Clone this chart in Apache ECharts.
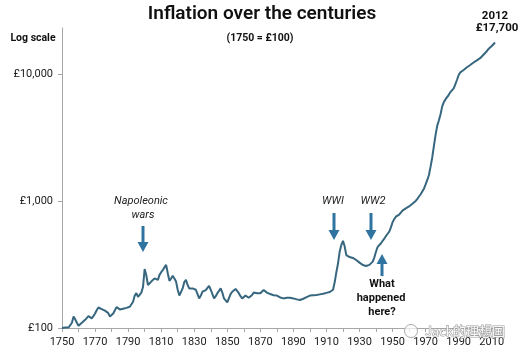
<!DOCTYPE html>
<html>
<head>
<meta charset="utf-8">
<script src="https://cdn.jsdelivr.net/npm/echarts@6/dist/echarts.min.js"></script>
<style>
html,body{margin:0;padding:0;background:#fff;}
#chart{width:520px;height:355px;}
</style>
</head>
<body>
<div id="chart"></div>
<script>
// Price level, 1750 = £100 (one value per year, 1750..2012)
const values = [
  100,100,101,101,101,100,110,123,117,110, // 1750-1759
  104,106,110,112,116,120,124,128,119,124, // 1760-1769
  130,138,145,143,141,136,137,139,131,123, // 1770-1779
  126,130,138,146,142,140,141,142,143,144, // 1780-1789
  146,147,152,161,180,188,176,172,190,210, // 1790-1799
  291,260,218,225,232,240,246,242,239,262, // 1800-1809
  275,286,300,314,270,235,245,258,245,232, // 1810-1819
  200,180,176,205,230,239,218,205,199,205, // 1820-1829
  212,200,185,171,180,193,197,199,207,215, // 1830-1839
  200,185,171,178,188,196,205,190,171,165, // 1840-1849
  159,160,185,193,200,203,196,188,178,171, // 1850-1859
  176,180,176,173,178,182,190,193,188,184, // 1860-1869
  188,194,199,195,190,188,185,182,181,180, // 1870-1879
  180,177,174,172,171,172,173,173,173,172, // 1880-1889
  171,170,168,167,166,168,170,172,175,178, // 1890-1899
  180,180,181,182,182,183,184,185,186,188, // 1900-1909
  189,190,192,193,200,230,275,323,400,450, // 1910-1919
  486,440,375,365,362,360,356,350,343,335, // 1920-1929
  327,319,313,309,308,310,314,322,333,360, // 1930-1939
  400,435,450,465,486,505,530,552,574,620, // 1940-1949
  680,720,752,765,780,800,840,861,875,890, // 1950-1959
  905,925,950,970,1000,1040,1085,1130,1190,1250, // 1960-1969
  1350,1464,1600,1862,2200,2700,3300,3900,4300,4800, // 1970-1979
  5530,6000,6300,6500,6850,7200,7450,7700,8300,9000, // 1980-1989
  9810,10300,10600,10750,11000,11300,11500,11770,12100,12300, // 1990-1999
  12600,12800,13000,13300,13700,14170,14600,15100,15700,16100, // 2000-2009
  16600,17200,17700 // 2010-2012
];
const firstYear = 1750;
const years = values.map((v, i) => firstYear + i);

// Axis ticks and labels
const xLabelYears = [1750,1770,1790,1810,1830,1850,1870,1890,1910,1930,1950,1970,1990,2010];
const xTickYears = [1750,1760,1770,1780,1790,1800,1810,1820,1830,1840,1850,1860,1870,1880,1890,1900,1910,1920,1930,1940,1950,1960,1970,1980,1990,2000,2010];
const yTickValues = [100, 1000, 10000];

// Texts
const titleText = 'Inflation over the centuries';
const subtitleText = '(1750 = £100)';
const yAxisTitle = 'Log scale';
const endYearText = '2012';
const endValueText = '£17,700';
const notes = {
  napoleonic: ['Napoleonic', 'wars'],
  ww1: 'WWI',
  ww2: 'WW2',
  what: ['What', 'happened', 'here?']
};
const watermark = 'Jack的理想国';

const LINE = '#37677f';
const ARROW = '#2f74a0';
const AXIS = '#a6a6a6';
const FONT = 'Roboto, "Noto Sans", sans-serif';

function fmtMoney(v) {
  return '£' + Math.round(v).toLocaleString('en-GB');
}

function arrow(x, y1, y2) {
  // y1 = tail, y2 = tip
  const dir = y2 > y1 ? 1 : -1;
  const headLen = 10, headHalf = 5.5;
  return {
    type: 'group',
    children: [
      { type: 'line', shape: { x1: x, y1: y1, x2: x, y2: y2 - dir * headLen + dir * 1 },
        style: { stroke: ARROW, lineWidth: 3 } },
      { type: 'polygon', shape: { points: [[x - headHalf, y2 - dir * headLen], [x + headHalf, y2 - dir * headLen], [x, y2]] },
        style: { fill: ARROW } }
    ]
  };
}

function txt(x, y, text, font, fill, align) {
  return { type: 'text', x: x, y: y, z: 10,
    style: { text: text, font: font, fill: fill || '#111', align: align || 'center', verticalAlign: 'middle' } };
}

const chart = echarts.init(document.getElementById('chart'), null, { renderer: 'canvas' });

const option = {
  animation: false,
  backgroundColor: '#fff',
  grid: { left: 62, right: 20, top: 28, bottom: 27, containLabel: false, outerBoundsMode: 'none' },
  xAxis: {
    type: 'value',
    min: 1750,
    max: 2015,
    splitLine: { show: false },
    axisLine: { show: true, onZero: false, lineStyle: { color: AXIS, width: 1 } },
    axisTick: { show: true, length: 4, customValues: xTickYears, lineStyle: { color: AXIS } },
    axisLabel: {
      customValues: xLabelYears,
      margin: 9,
      color: '#1a1a1a',
      fontFamily: FONT,
      fontSize: 11,
      formatter: v => String(v)
    }
  },
  yAxis: {
    type: 'log',
    logBase: 10,
    min: 100,
    max: 23000,
    splitLine: { show: false },
    axisLine: { show: true, lineStyle: { color: AXIS, width: 1 } },
    axisTick: { show: true, length: 4, customValues: yTickValues, lineStyle: { color: AXIS } },
    axisLabel: {
      customValues: yTickValues,
      margin: 9,
      color: '#1a1a1a',
      fontFamily: FONT,
      fontSize: 11,
      formatter: v => fmtMoney(v)
    }
  },
  series: [{
    type: 'line',
    data: years.map((y, i) => [y, values[i]]),
    showSymbol: false,
    symbol: 'none',
    lineStyle: { color: LINE, width: 2 },
    clip: false
  }],
  graphic: [
    txt(262, 14, titleText, '600 19px ' + FONT, '#111'),
    txt(260, 38, subtitleText, 'bold 10.5px ' + FONT, '#111'),
    txt(33, 38, yAxisTitle, 'bold 10.5px ' + FONT, '#111'),
    txt(495, 16, endYearText, 'bold 11.5px ' + FONT, '#111'),
    txt(497, 28, endValueText, 'bold 11.5px ' + FONT, '#111'),
    txt(141, 201, notes.napoleonic[0], 'italic 11px ' + FONT, '#222'),
    txt(143, 215, notes.napoleonic[1], 'italic 11px ' + FONT, '#222'),
    arrow(143, 226, 252),
    txt(333, 201, notes.ww1, 'italic 11px ' + FONT, '#222'),
    arrow(334, 213, 240),
    txt(373, 201, notes.ww2, 'italic 11px ' + FONT, '#222'),
    arrow(371, 213, 240),
    arrow(382, 276, 254),
    txt(382, 284, notes.what[0], 'bold 11px ' + FONT, '#111'),
    txt(381, 298, notes.what[1], 'bold 11px ' + FONT, '#111'),
    txt(382, 312, notes.what[2], 'bold 11px ' + FONT, '#111'),
    { type: 'circle', shape: { cx: 411, cy: 331, r: 6.5 }, z: 11,
      style: { fill: 'rgba(255,255,255,0.7)', stroke: '#aaaaaa', lineWidth: 1 } },
    { type: 'text', x: 465, y: 331, z: 11,
      style: { text: watermark, font: '13px "Noto Sans CJK SC", ' + FONT, fill: 'rgba(255,255,255,0.9)',
        stroke: '#9e9e9e', lineWidth: 1.2, align: 'center', verticalAlign: 'middle' } }
  ]
};

chart.setOption(option);
</script>
</body>
</html>
